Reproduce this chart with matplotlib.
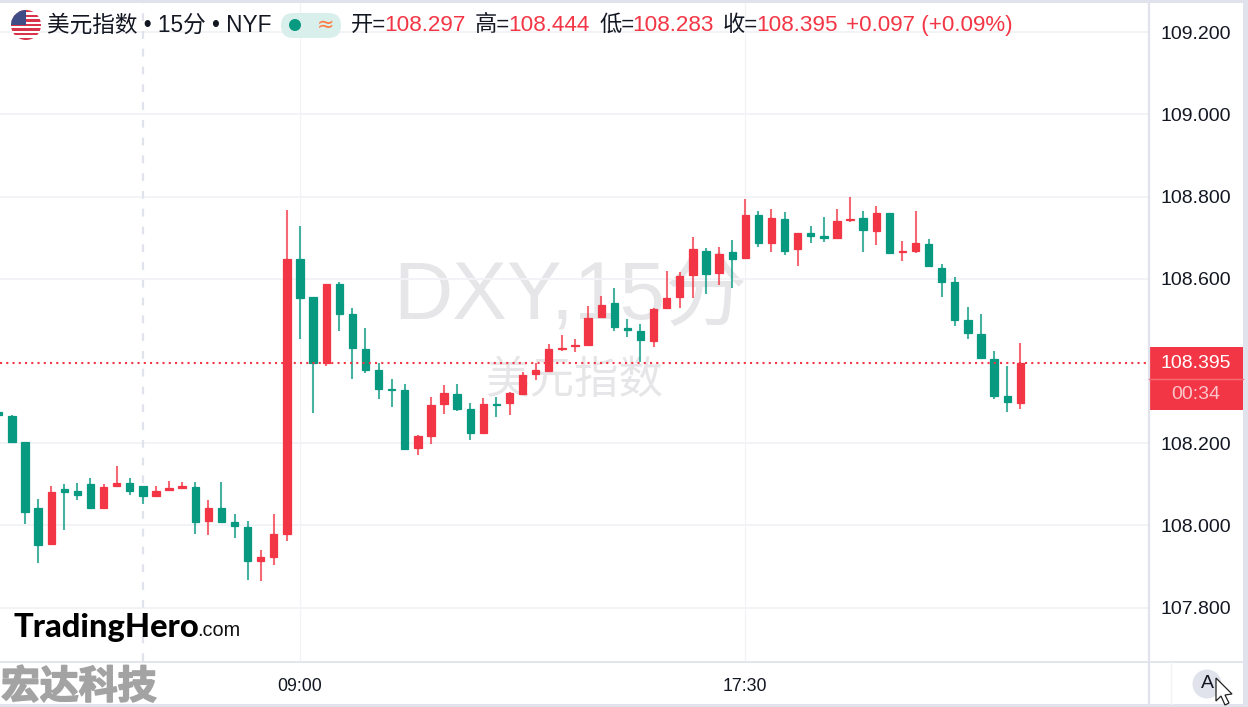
import matplotlib
matplotlib.use('Agg')
import matplotlib.pyplot as plt
import matplotlib.patheffects as pe
from matplotlib.patches import Circle, FancyBboxPatch, Polygon, Rectangle

plt.rcParams['font.family'] = ['Liberation Sans', 'Noto Sans CJK SC', 'DejaVu Sans']

RED = '#F23645'
GREEN = '#089981'
LINE = '#E0E3EB'
GRID = '#F2F3F7'

# 15 minute bars, index 0 is the cut off bar at the left edge
opens = [108.275, 108.267, 108.202, 108.041, 107.954, 108.088, 108.083, 108.101, 108.042, 108.095,
         108.103, 108.095, 108.071, 108.087, 108.091, 108.094, 108.010, 108.043, 108.007, 107.995,
         107.913, 107.924, 107.979, 108.648, 108.555, 108.394, 108.588, 108.515, 108.429, 108.377,
         108.332, 108.329, 108.188, 108.218, 108.295, 108.320, 108.283, 108.225, 108.295, 108.298,
         108.320, 108.368, 108.376, 108.429, 108.436, 108.439, 108.506, 108.541, 108.480, 108.473,
         108.448, 108.530, 108.556, 108.609, 108.668, 108.614, 108.664, 108.650, 108.755, 108.688,
         108.746, 108.672, 108.712, 108.703, 108.698, 108.742, 108.747, 108.717, 108.761, 108.664,
         108.668, 108.685, 108.627, 108.592, 108.500, 108.465, 108.405, 108.314, 108.297]
highs = [108.276, 108.268, 108.202, 108.063, 108.096, 108.101, 108.104, 108.114, 108.101, 108.144,
         108.115, 108.095, 108.096, 108.107, 108.105, 108.105, 108.061, 108.106, 108.027, 108.010,
         107.939, 108.027, 108.767, 108.728, 108.556, 108.588, 108.591, 108.528, 108.479, 108.394,
         108.357, 108.343, 108.220, 108.312, 108.341, 108.345, 108.298, 108.309, 108.313, 108.324,
         108.374, 108.396, 108.441, 108.462, 108.453, 108.534, 108.557, 108.578, 108.503, 108.490,
         108.530, 108.619, 108.617, 108.701, 108.675, 108.677, 108.694, 108.793, 108.764, 108.770,
         108.762, 108.712, 108.729, 108.751, 108.769, 108.798, 108.766, 108.777, 108.761, 108.693,
         108.764, 108.696, 108.636, 108.604, 108.532, 108.514, 108.425, 108.388, 108.444]
lows = [108.267, 108.202, 108.003, 107.909, 107.954, 107.989, 108.062, 108.043, 108.042, 108.095,
        108.073, 108.053, 108.071, 108.087, 108.088, 107.979, 107.976, 108.009, 107.970, 107.868,
        107.864, 107.903, 107.962, 108.454, 108.274, 108.388, 108.472, 108.355, 108.370, 108.307,
        108.288, 108.186, 108.172, 108.197, 108.272, 108.277, 108.208, 108.225, 108.263, 108.268,
        108.316, 108.354, 108.374, 108.425, 108.421, 108.439, 108.506, 108.472, 108.459, 108.397,
        108.435, 108.530, 108.528, 108.554, 108.562, 108.585, 108.578, 108.650, 108.678, 108.665,
        108.657, 108.631, 108.688, 108.690, 108.698, 108.739, 108.664, 108.681, 108.660, 108.643,
        108.662, 108.630, 108.555, 108.484, 108.454, 108.406, 108.307, 108.275, 108.283]
closes = [108.269, 108.202, 108.033, 107.953, 108.082, 108.082, 108.073, 108.043, 108.093, 108.102,
          108.084, 108.072, 108.084, 108.090, 108.095, 108.009, 108.042, 108.009, 107.998, 107.913,
          107.924, 107.979, 108.647, 108.552, 108.396, 108.587, 108.515, 108.432, 108.378, 108.332,
          108.329, 108.186, 108.217, 108.292, 108.323, 108.282, 108.225, 108.296, 108.292, 108.321,
          108.366, 108.377, 108.428, 108.431, 108.439, 108.504, 108.536, 108.483, 108.476, 108.452,
          108.527, 108.554, 108.607, 108.672, 108.612, 108.660, 108.648, 108.754, 108.686, 108.747,
          108.668, 108.712, 108.704, 108.698, 108.740, 108.746, 108.719, 108.759, 108.663, 108.667,
          108.686, 108.630, 108.592, 108.500, 108.467, 108.406, 108.314, 108.299, 108.395]

price_ticks = [107.8, 108.0, 108.2, 108.4, 108.6, 108.8, 109.0, 109.2]
price_labels = ['107.800', '108.000', '108.200', '', '108.600', '108.800', '109.000', '109.200']
time_ticks = [23, 57]
time_labels = ['09:00', '17:30']
crosshair_bar = 11
last_price = '108.395'
countdown = '00:34'
ohlc_text = [('开=', '108.297', 351, 384), ('高=', '108.444', 475, 508),
             ('低=', '108.283', 599, 632), ('收=', '108.395', 723, 756)]

W, H = 1248, 707
BAR_PX = 13.096      # pixels per bar
BAR0_X = 300 - 23 * BAR_PX
PRICE_PX = 411.0     # pixels per 1.000 of price
PLOT_R, PLOT_T, PLOT_B = 1148, 3, 661

fig = plt.figure(figsize=(W / 100, H / 100), dpi=100, facecolor='white')
ax = fig.add_axes([0, 1 - PLOT_B / H, PLOT_R / W, (PLOT_B - PLOT_T) / H])
ax.set_xlim((0 - BAR0_X) / BAR_PX, (PLOT_R - BAR0_X) / BAR_PX)
ax.set_ylim(108.395 - (PLOT_B - 363) / PRICE_PX, 108.395 + (363 - PLOT_T) / PRICE_PX)
ax.patch.set_alpha(0)

for s in ax.spines.values():
    s.set_visible(False)
ax.yaxis.tick_right()
ax.set_yticks(price_ticks)
ax.set_yticklabels(price_labels, fontsize=14, color='#131722')
ax.set_xticks(time_ticks)
ax.set_xticklabels(time_labels, fontsize=12.8, color='#131722')
ax.tick_params(axis='y', length=0, pad=8.8)
ax.tick_params(axis='x', length=0, pad=12.5)
ax.set_axisbelow(True)
ax.grid(axis='y', color=GRID, lw=1.4)
ax.grid(axis='x', color=GRID, lw=0.9)
# the grid has no line at 108.4, the last price line sits close to it
ax.get_ygridlines()[3].set_visible(False)

ax.axvline(crosshair_bar, color=LINE, lw=1.6, dashes=(3.5, 4.5), zorder=1)

idx = list(range(len(opens)))
cols = [RED if c >= o else GREEN for o, c in zip(opens, closes)]
ax.vlines(idx, lows, highs, colors=cols, lw=1.5, alpha=0.75, zorder=3)
ax.bar(idx, [abs(c - o) for o, c in zip(opens, closes)],
       bottom=[min(o, c) for o, c in zip(opens, closes)],
       width=0.56, color=cols, edgecolor=cols, lw=0.9, zorder=4)
ax.axhline(closes[-1], color=RED, lw=1.5, dashes=(1, 2), zorder=5)

# everything around the chart is placed in pixels on a full figure layer
top = fig.add_axes([0, 0, 1, 1], facecolor='none')
top.set_xlim(0, W)
top.set_ylim(H, 0)
top.axis('off')

back = fig.add_axes([0, 0, 1, 1], facecolor='none', zorder=-1)
back.set_xlim(0, W)
back.set_ylim(H, 0)
back.axis('off')
back.text(570, 297, 'DXY,15分', fontsize=59, color='#E6E6E8', ha='center', va='center')
back.text(574, 381, '美元指数', fontsize=32, color='#E6E6E8', ha='center', va='center')

top.add_patch(Rectangle((0, 0), W, 3, color=LINE, lw=0))
top.add_patch(Rectangle((1243, 0), 5, H, color=LINE, lw=0))
top.add_patch(Rectangle((0, 704), W, 3, color=LINE, lw=0))
top.plot([0, 1243], [661.5, 661.5], color=LINE, lw=1.3)
top.plot([1148.5, 1148.5], [3, 704], color=LINE, lw=1.6)
top.plot([1170.5, 1170.5], [662, 704], color=GRID, lw=1)

# flag
disc = Circle((26, 25), 15, color='white', lw=0)
top.add_patch(disc)
for k in range(7):
    s = Rectangle((10, 10 + k * 30 / 6.5), 32, 30 / 13, color='#D8334A', lw=0)
    top.add_patch(s)
    s.set_clip_path(disc)
canton = Rectangle((10, 9), 16, 16, color='#3F4C86', lw=0)
top.add_patch(canton)
canton.set_clip_path(disc)

# header
top.text(47, 25.5, '美元指数 • 15分 • NYF', fontsize=16.3, color='#131722', va='center')
top.add_patch(FancyBboxPatch((281, 13), 60, 25, boxstyle='round,pad=0,rounding_size=12.5',
                             fc='#D9EFEB', ec='none'))
top.add_patch(Circle((295, 25), 6, color=GREEN, lw=0))
top.text(326, 25, '≈', fontsize=15, color='#FF7A45', ha='center', va='center', family='DejaVu Sans')
for name, val, x1, x2 in ohlc_text:
    top.text(x1, 25.5, name, fontsize=16, color='#131722', va='center')
    top.text(x2, 25.5, val, fontsize=16.2, color=RED, va='center')
top.text(846, 25.5, '+0.097 (+0.09%)', fontsize=16.1, color=RED, va='center')

# last price tag
top.add_patch(Rectangle((1149, 347), 94, 63, color=RED, lw=0))
top.plot([1149, 1243], [378.5, 378.5], color='#F56B77', lw=1)
top.text(1196, 363, last_price, fontsize=14, color='white', ha='center', va='center')
top.text(1196, 394.5, countdown, fontsize=14, color='#FBC5CA', ha='center', va='center')

# logos
top.text(14, 627, 'TradingHero', fontsize=23.5, fontweight='black', color='black', va='center',
         family='Lato')
top.text(197, 630, '.com', fontsize=14.3, color='#111111', va='center')
top.text(1, 687, '宏达科技', fontsize=28, fontweight='bold', color='#A3A3A3', va='center',
         family='Noto Sans CJK SC',
         path_effects=[pe.withStroke(linewidth=1.2, foreground='#A3A3A3')])

# auto scale button and mouse pointer
top.add_patch(Circle((1207, 684), 14.5, color=LINE, lw=0))
top.text(1207, 684, 'A', fontsize=14, color='#131722', ha='center', va='center')
top.add_patch(Polygon([(1216, 678), (1216, 701), (1221, 696), (1225, 705), (1229, 703),
                       (1225, 695), (1232, 694)], closed=True, fc='white', ec='#222222', lw=0.9))

fig.savefig('out.png', dpi=100)
